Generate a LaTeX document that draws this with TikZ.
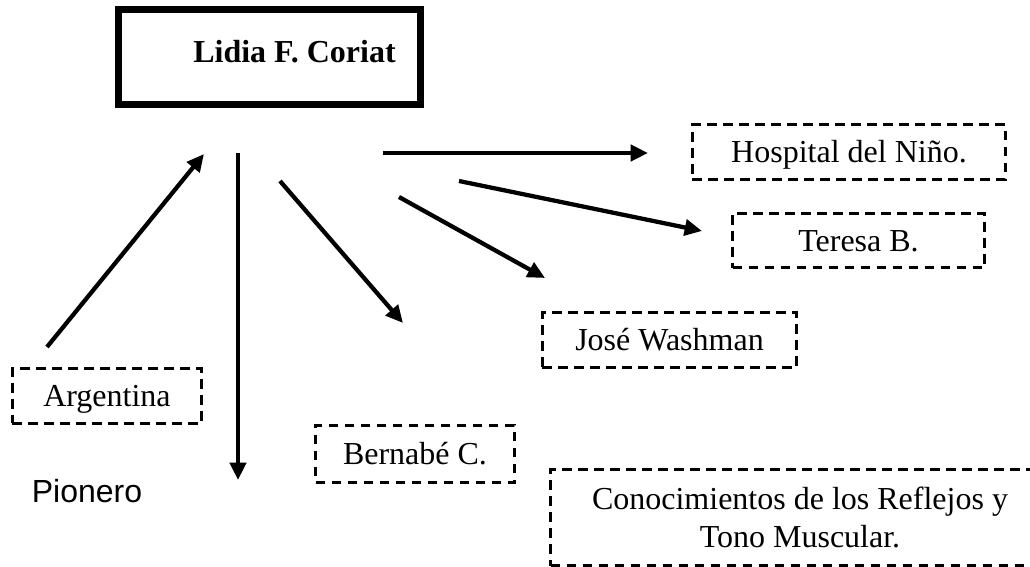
\documentclass[tikz,border=0pt]{standalone}
\usepackage{fontspec}
\setmainfont{Liberation Serif}
\setsansfont{Liberation Sans}
\usetikzlibrary{arrows.meta}
\newcommand{\basesize}{\fontsize{12}{14}\selectfont}
\tikzset{
	mainbox/.style={draw, line width=2.6pt, inner sep=0pt, minimum width=113.25pt, minimum height=35.6pt},
	dashbox/.style={draw, line width=1.1pt, dash pattern=on 3.6pt off 2.4pt, inner sep=0pt, align=center},
	onebox/.style={dashbox, text height=7.9pt, text depth=0pt},
	arrow/.style={line width=1.6pt, -{Triangle[length=6.5pt, width=6pt]}},
}
\begin{document}
\begin{tikzpicture}[x=0.375pt, y=-0.375pt, font=\basesize]
                \clip (0, 0) rectangle (1030, 567);
                \node [mainbox] (0) at (269.5, 57) {};
                \node [font=\basesize\bfseries, anchor=base] (1) at (294.5, 63) {Lidia F. Coriat};
                \node [onebox, minimum width=117.4pt, minimum height=20.4pt] (2) at (849, 152) {Hospital del Niño.};
                \node [onebox, minimum width=94.5pt, minimum height=20.3pt] (3) at (858.5, 240.5) {Teresa B.};
                \node [onebox, minimum width=95.3pt, minimum height=20.6pt] (4) at (669.5, 340) {José Washman};
                \node [onebox, minimum width=70.9pt, minimum height=20.6pt] (5) at (107, 396) {Argentina};
                \node [onebox, minimum width=74.6pt, minimum height=21.4pt] (6) at (415, 454) {Bernabé C.};
                \node [dashbox, minimum width=187pt, minimum height=36pt] (7) at (800, 517.5) {Conocimientos de los Reflejos y\\Tono Muscular.};
                \node [font=\basesize\sffamily] (8) at (87, 491) {Pionero};
                \node (10) at (47, 347) {};
                \node (11) at (204, 154) {};
                \node (12) at (238, 153) {};
                \node (13) at (238, 480) {};
                \node (14) at (280, 181) {};
                \node (15) at (403, 323) {};
                \node (16) at (399, 197) {};
                \node (17) at (545, 278) {};
                \node (18) at (459, 181) {};
                \node (19) at (702, 231) {};
                \node (20) at (383, 153) {};
                \node (21) at (648, 153) {};
                \draw [arrow] (10.center) to (11.center);
                \draw [arrow] (12.center) to (13.center);
                \draw [arrow] (14.center) to (15.center);
                \draw [arrow] (16.center) to (17.center);
                \draw [arrow] (18.center) to (19.center);
                \draw [arrow] (20.center) to (21.center);
\end{tikzpicture}
\end{document}
